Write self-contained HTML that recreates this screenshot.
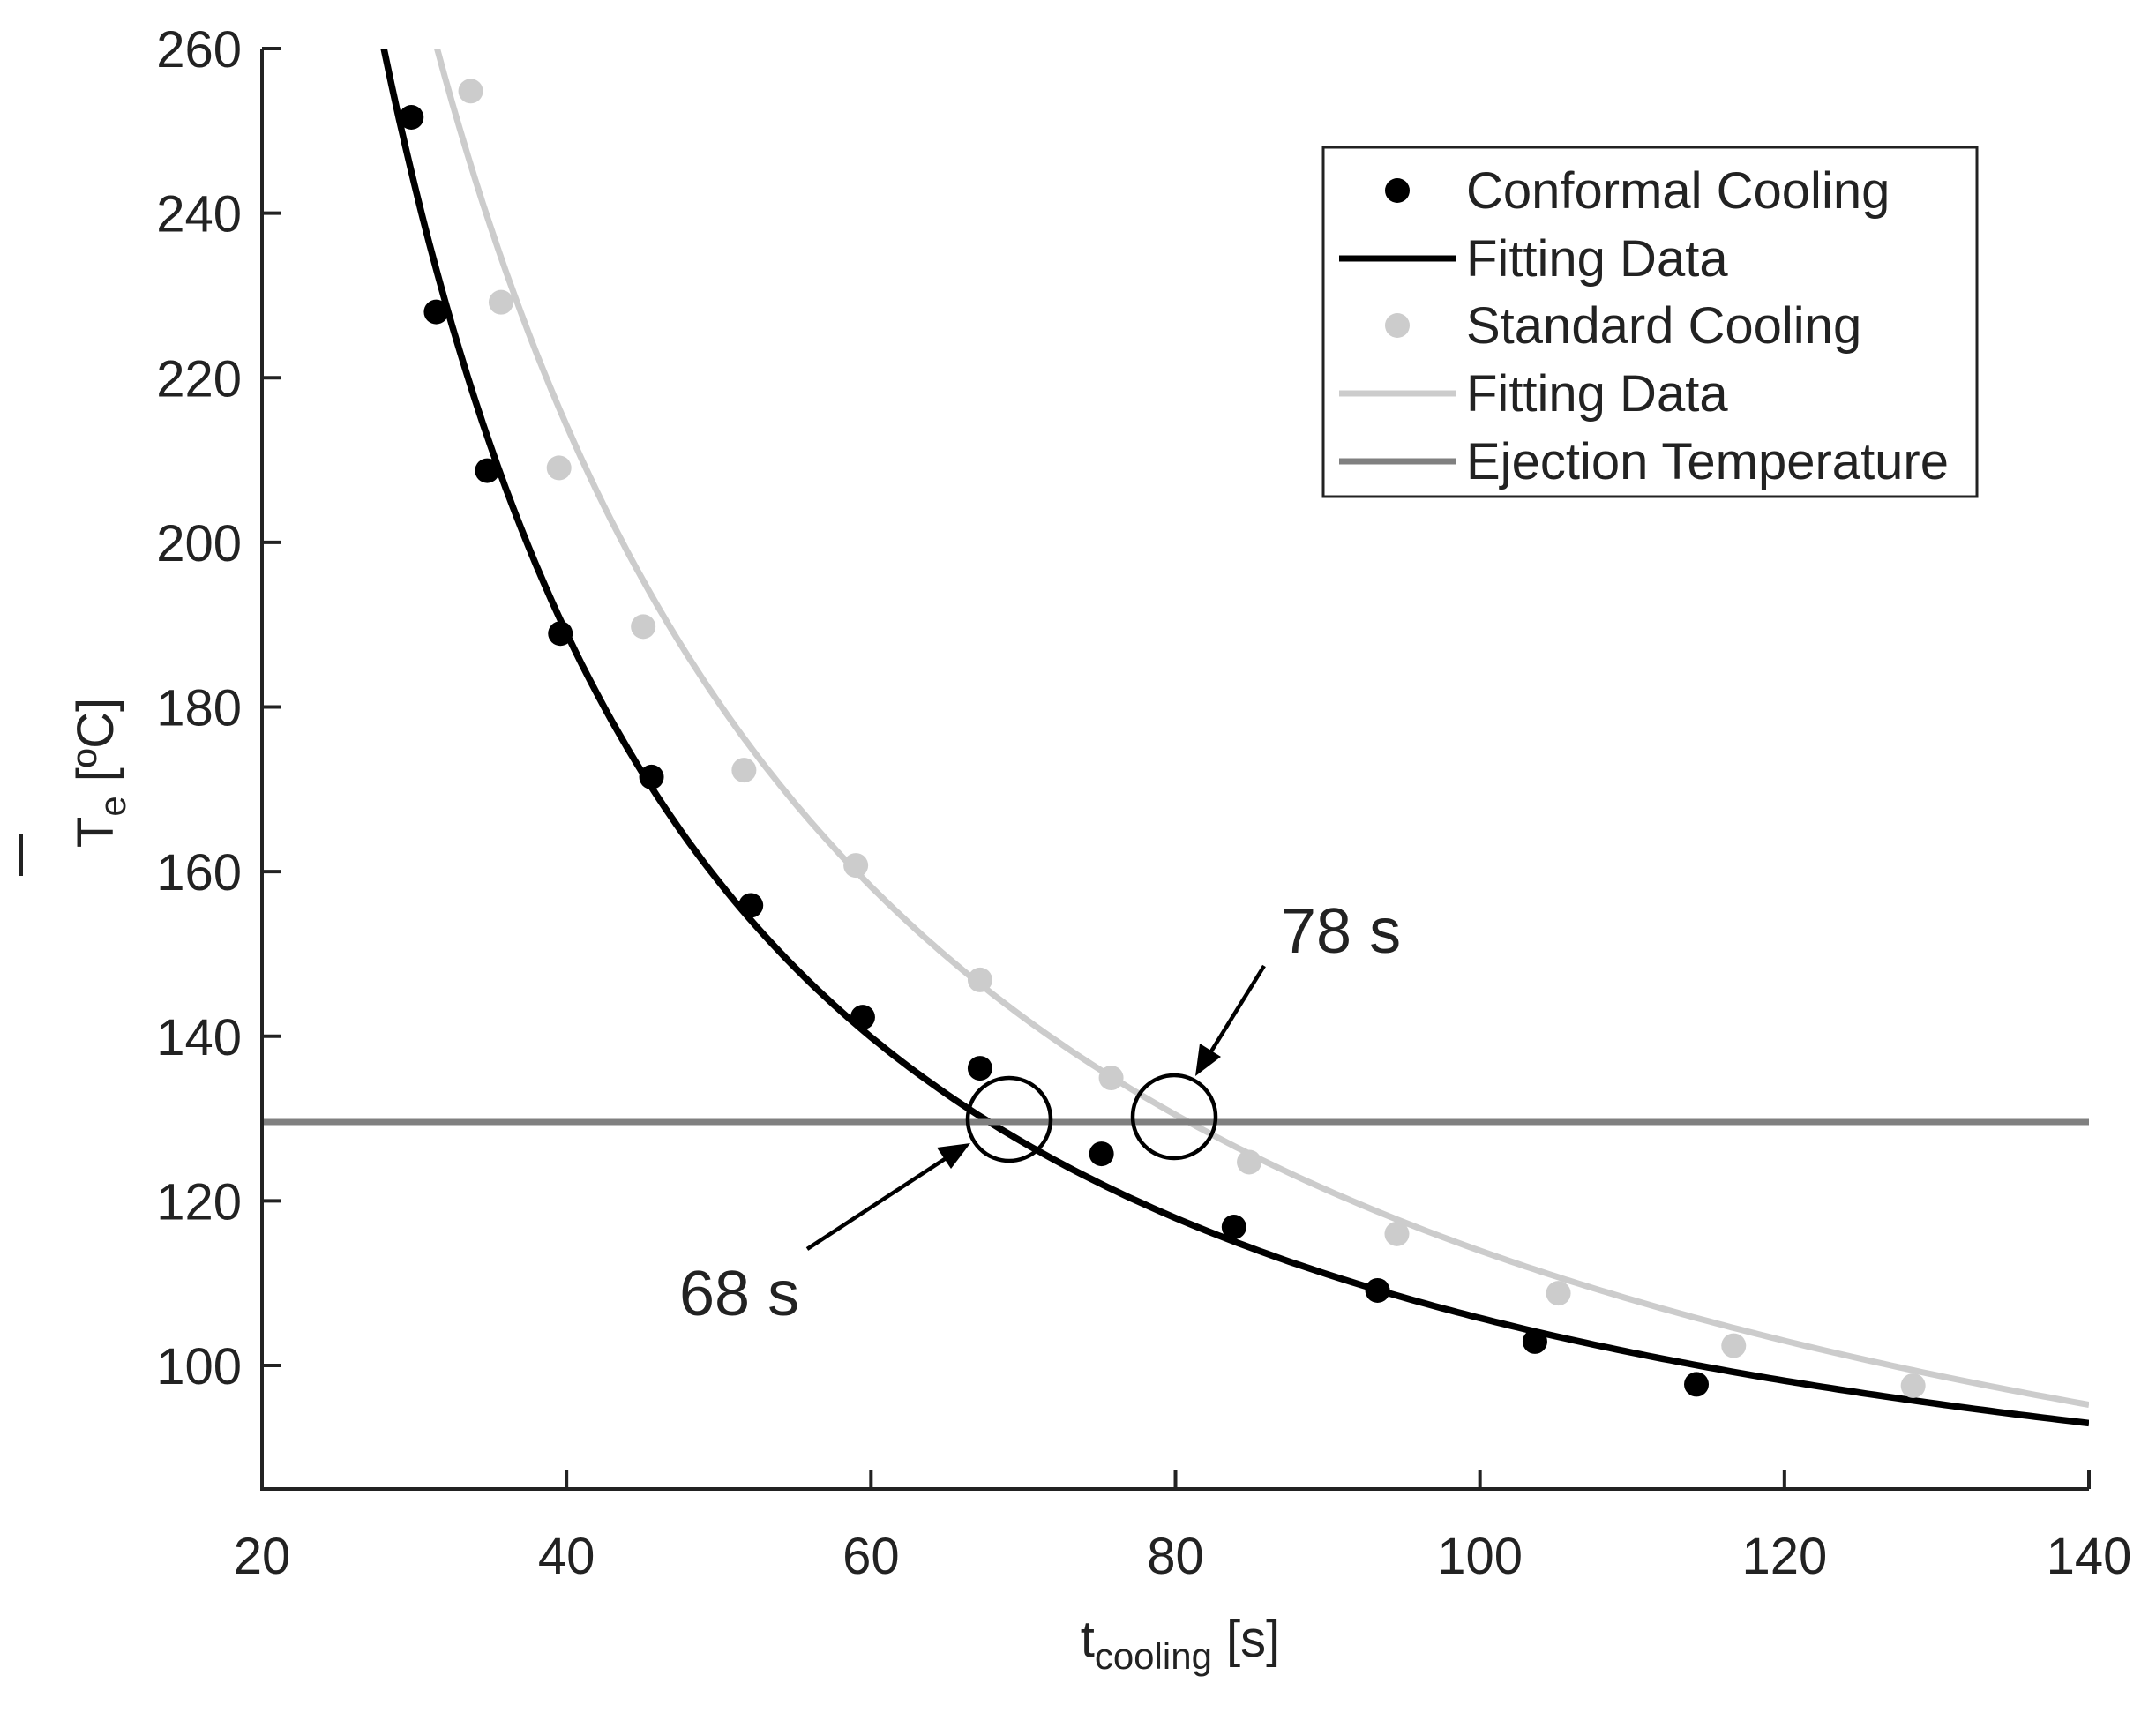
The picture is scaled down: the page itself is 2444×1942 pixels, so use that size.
<!DOCTYPE html>
<html><head><meta charset="utf-8"><style>
html,body{margin:0;padding:0;background:#fff}
svg{display:block}
text{font-family:"Liberation Sans",Arial,sans-serif;fill:#222}
</style></head><body>
<svg id="s" width="2444" height="1942" viewBox="0 0 2444 1942" xmlns="http://www.w3.org/2000/svg">
<defs><clipPath id="c"><rect x="297" y="55" width="2071" height="1633"/></clipPath></defs>
<g id="plot" clip-path="url(#c)">
<path id="gray" fill="none" stroke="#cccccc" stroke-width="7"/>
<path id="black" fill="none" stroke="#000" stroke-width="7.5"/>
<line x1="297" y1="1272" x2="2368" y2="1272" stroke="#808080" stroke-width="7"/>
</g>
<g id="pts"></g>
<circle cx="1144" cy="1269" r="47" fill="none" stroke="#000" stroke-width="4.5"/>
<circle cx="1331" cy="1266" r="47" fill="none" stroke="#000" stroke-width="4.5"/>
<line x1="915" y1="1416" x2="1080" y2="1308" stroke="#000" stroke-width="4.5"/>
<polygon points="1100,1296 1062,1301 1078,1325" fill="#000"/>
<line x1="1433" y1="1095" x2="1368" y2="1200" stroke="#000" stroke-width="4.5"/>
<polygon points="1355,1220 1360,1183 1384,1198" fill="#000"/>
<text x="770" y="1491" font-size="72">68 s</text>
<text x="1452" y="1080" font-size="72">78 s</text>
<g id="axes" stroke="#222" stroke-width="4" fill="none">
<path d="M297 55 V1688 H2368"/>
</g>
<g id="ticks"></g>
<g font-size="58" text-anchor="end" id="yl"></g>
<g font-size="58" text-anchor="middle" id="xl"></g>
<text transform="translate(128,876) rotate(-90)" font-size="58" text-anchor="middle">T<tspan font-size="42" dy="14">e</tspan><tspan dy="-14"> [ºC]</tspan></text>
<line x1="24" y1="945" x2="24" y2="993" stroke="#222" stroke-width="4"/>
<text x="1338" y="1878" font-size="58" text-anchor="middle">t<tspan font-size="42" dy="14">cooling</tspan><tspan dy="-14"> [s]</tspan></text>
<rect x="1500" y="167" width="741" height="396" fill="#fff" stroke="#222" stroke-width="3"/>
<circle cx="1584" cy="216" r="14" fill="#000"/>
<line x1="1518" y1="293" x2="1651" y2="293" stroke="#000" stroke-width="7"/>
<circle cx="1584" cy="369" r="14" fill="#ccc"/>
<line x1="1518" y1="446" x2="1651" y2="446" stroke="#ccc" stroke-width="7"/>
<line x1="1518" y1="523" x2="1651" y2="523" stroke="#808080" stroke-width="7"/>
<g font-size="58">
<text x="1662" y="236">Conformal Cooling</text>
<text x="1662" y="313">Fitting Data</text>
<text x="1662" y="389">Standard Cooling</text>
<text x="1662" y="466">Fitting Data</text>
<text x="1662" y="543">Ejection Temperature</text>
</g>
</svg>
<script>
var NS="http://www.w3.org/2000/svg";
function X(t){return 297+(t-20)*2071/120;}
function Y(v){return 55+(260-v)*1633/175;}
function curve(f,t0){var d="";for(var t=t0;t<=140.01;t+=0.5){d+=(d?"L":"M")+X(t).toFixed(1)+" "+Y(f(t)).toFixed(1);}return d;}
document.getElementById("black").setAttribute("d",curve(function(t){return 70+190*Math.pow(t/28,-1.312);},27.5));
document.getElementById("gray").setAttribute("d",curve(function(t){return 50+210*Math.pow(t/31.5,-1.0293);},31));
var s=1.5647;
var bk=[[298,85],[316,226],[353,341],[406,459],[472,563],[544,656],[625,737],[710,774],[798,836],[894,889],[998,935],[1112,972],[1229,1003]];
var gr=[[341,66],[363,219],[405,339],[466,454],[539,558],[620,627],[710,710],[805,781],[905,842],[1012,894],[1129,937],[1256,975],[1386,1004]];
var g=document.getElementById("pts");
function dot(p,c){var e=document.createElementNS(NS,"circle");e.setAttribute("cx",p[0]*s);e.setAttribute("cy",p[1]*s);e.setAttribute("r",14);e.setAttribute("fill",c);g.appendChild(e);}
gr.forEach(function(p){dot(p,"#ccc");});bk.forEach(function(p){dot(p,"#000");});
var tk=document.getElementById("ticks"),yl=document.getElementById("yl"),xl=document.getElementById("xl");
function ln(x1,y1,x2,y2){var e=document.createElementNS(NS,"line");e.setAttribute("x1",x1);e.setAttribute("y1",y1);e.setAttribute("x2",x2);e.setAttribute("y2",y2);e.setAttribute("stroke","#222");e.setAttribute("stroke-width",4);tk.appendChild(e);}
function tx(par,x,y,str){var e=document.createElementNS(NS,"text");e.setAttribute("x",x);e.setAttribute("y",y);e.textContent=str;par.appendChild(e);}
for(var v=100;v<=260;v+=20){var y=Y(v);ln(297,y,318,y);tx(yl,274,y+21,v);}
for(var t=20;t<=140;t+=20){var x=X(t);ln(x,1688,x,1667);tx(xl,x,1784,t);}
</script>
</body></html>
